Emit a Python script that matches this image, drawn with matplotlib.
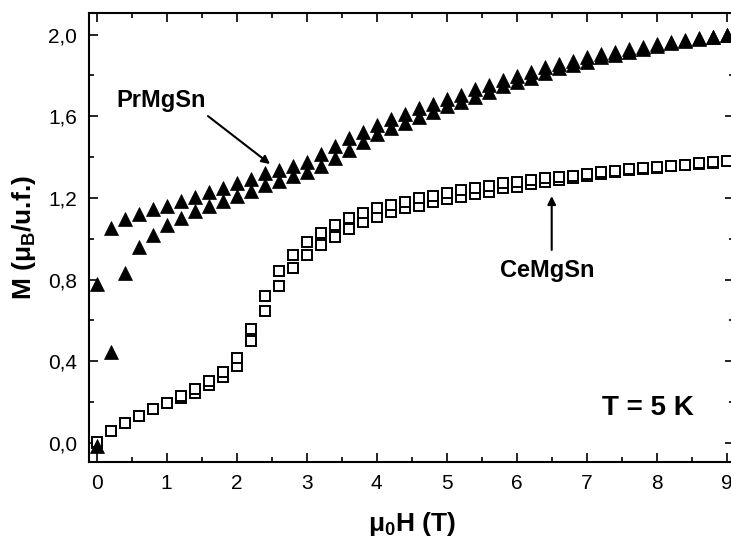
import matplotlib
matplotlib.use("Agg")
import matplotlib.pyplot as plt
from matplotlib.ticker import MultipleLocator, FuncFormatter

plt.rcParams['font.family'] = ['Liberation Sans', 'DejaVu Sans']
plt.rcParams['mathtext.default'] = 'regular'

# magnetic field (T), 0.2 T steps
field = [0.0, 0.2, 0.4, 0.6, 0.8, 1.0, 1.2, 1.4, 1.6, 1.8,
         2.0, 2.2, 2.4, 2.6, 2.8, 3.0, 3.2, 3.4, 3.6, 3.8,
         4.0, 4.2, 4.4, 4.6, 4.8, 5.0, 5.2, 5.4, 5.6, 5.8,
         6.0, 6.2, 6.4, 6.6, 6.8, 7.0, 7.2, 7.4, 7.6, 7.8,
         8.0, 8.2, 8.4, 8.6, 8.8, 9.0]

# PrMgSn, field decreasing / increasing branch
pr_down = [0.780, 1.054, 1.097, 1.121, 1.144, 1.162, 1.185, 1.206, 1.227, 1.250,
           1.273, 1.293, 1.320, 1.337, 1.358, 1.378, 1.414, 1.456, 1.494, 1.525,
           1.557, 1.588, 1.612, 1.639, 1.660, 1.683, 1.704, 1.732, 1.753, 1.778,
           1.798, 1.819, 1.840, 1.856, 1.873, 1.889, 1.905, 1.917, 1.928, 1.941,
           1.954, 1.966, 1.974, 1.982, 1.990, 1.999]
pr_up = [-0.018, 0.444, 0.834, 0.961, 1.017, 1.066, 1.100, 1.134, 1.162, 1.186,
         1.211, 1.235, 1.263, 1.283, 1.307, 1.325, 1.358, 1.394, 1.435, 1.476,
         1.512, 1.541, 1.569, 1.598, 1.623, 1.650, 1.672, 1.696, 1.721, 1.747,
         1.770, 1.786, 1.811, 1.835, 1.851, 1.868, 1.889, 1.900, 1.917, 1.928,
         1.945, 1.958, 1.971, 1.980, 1.988, 1.997]

# CeMgSn
ce_down = [0.002, 0.059, 0.097, 0.132, 0.164, 0.193, 0.230, 0.263, 0.304, 0.347,
           0.417, 0.559, 0.721, 0.843, 0.920, 0.982, 1.026, 1.067, 1.100, 1.124,
           1.149, 1.165, 1.181, 1.198, 1.209, 1.225, 1.239, 1.250, 1.260, 1.272,
           1.279, 1.288, 1.296, 1.304, 1.309, 1.317, 1.325, 1.333, 1.340, 1.345,
           1.350, 1.356, 1.361, 1.369, 1.374, 1.381]
ce_up = [0.000, 0.059, 0.097, 0.132, 0.164, 0.193, 0.218, 0.245, 0.283, 0.321,
         0.377, 0.498, 0.646, 0.770, 0.856, 0.920, 0.969, 1.010, 1.046, 1.083,
         1.108, 1.129, 1.149, 1.162, 1.181, 1.193, 1.206, 1.219, 1.230, 1.247,
         1.255, 1.268, 1.279, 1.288, 1.296, 1.307, 1.317, 1.328, 1.336, 1.342,
         1.348, 1.354, 1.360, 1.368, 1.373, 1.380]

fig = plt.figure(figsize=(7.31, 5.42), dpi=100)
ax = fig.add_axes([0.1224, 0.1482, 0.8813, 0.8273])

sq = dict(marker='s', ms=6.8, mfc='white', mec='black', mew=1.4, ls='none')
ax.plot(field, ce_up, **sq)
ax.plot(field, ce_down, **sq)

tri = dict(marker='^', ms=10, mfc='black', mec='black', mew=0.5, ls='none')
ax.plot(field, pr_up, **tri)
ax.plot(field, pr_down, **tri)

ax.set_xlim(-0.103, 9.1)
ax.set_ylim(-0.093, 2.105)

ax.xaxis.set_major_locator(MultipleLocator(1))
ax.xaxis.set_minor_locator(MultipleLocator(0.5))
ax.yaxis.set_major_locator(MultipleLocator(0.4))
ax.yaxis.set_minor_locator(MultipleLocator(0.2))
ax.yaxis.set_major_formatter(FuncFormatter(lambda v, p: f'{v:.1f}'.replace('.', ',')))

ax.tick_params(which='both', direction='in', top=True, right=True, width=1.2)
ax.tick_params(which='major', length=6.5, labelsize=15)
ax.tick_params(axis='x', which='major', pad=9)
ax.tick_params(axis='y', which='major', pad=9)
ax.tick_params(which='minor', length=3.6)
for s in ax.spines.values():
    s.set_linewidth(1.5)

ax.set_xlabel(r'μ$_{0}$H (T)', fontsize=19, fontweight='bold', labelpad=12)
ax.set_ylabel(r'M (μ$_{B}$/u.f.)', fontsize=19, fontweight='bold', labelpad=7)

arrow = dict(arrowstyle='-|>', color='black', lw=1.5, mutation_scale=12, shrinkA=0, shrinkB=0)
ax.annotate('', xy=(2.476, 1.366), xytext=(1.59, 1.601), arrowprops=arrow)
ax.annotate('', xy=(6.50, 1.209), xytext=(6.50, 0.945), arrowprops=arrow)

ax.text(0.92, 1.679, 'PrMgSn', fontsize=17, fontweight='bold', ha='center', va='center')
ax.text(6.44, 0.846, 'CeMgSn', fontsize=17, fontweight='bold', ha='center', va='center')
ax.text(7.88, 0.170, 'T = 5 K', fontsize=20, fontweight='bold', ha='center', va='center')

fig.savefig('out.png', dpi=100)
